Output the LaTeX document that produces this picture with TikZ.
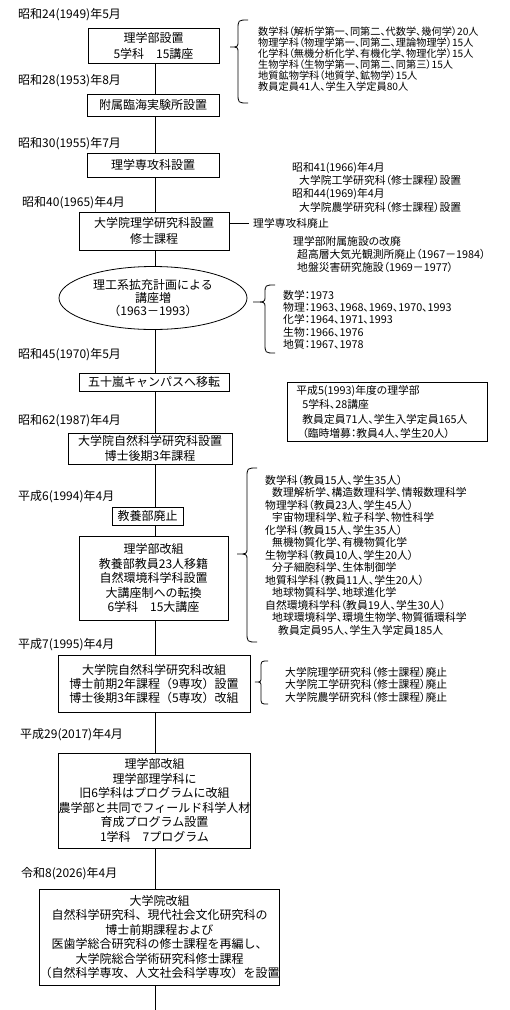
\documentclass[tikz,border=0pt]{standalone}
\usepackage{fontspec}
\setmainfont{Noto Sans CJK JP}
\newfontfamily\sidefam{Noto Sans CJK JP}[RawFeature=+palt]
\usetikzlibrary{shapes.geometric}
\tikzset{
  box/.style={draw, line width=0.8pt, fill=white, align=center, inner sep=0pt},
  mainfont/.style={font=\fontsize{12}{#1}\selectfont},
  datelbl/.style={anchor=west, inner sep=0pt, font=\fontsize{12}{14}\selectfont},
  side/.style={anchor=north west, inner sep=0pt, align=left},
  sidefont/.style={font=\sidefam\fontsize{10.8}{#1}\selectfont},
  smallside/.style={font=\sidefam\fontsize{10.2}{#1}\selectfont},
  link/.style={line width=0.8pt},
  bracepath/.style={line width=0.8pt},
}
\begin{document}
\begin{tikzpicture}[x=1pt, y=-1pt]
\useasboundingbox (0,0) rectangle (510,1010);
\coordinate (sp) at (155,0);
\coordinate (spend) at (155,1010);

% date labels
\node[datelbl] (d1) at (18,15) {昭和24(1949)年5月};
\node[datelbl] (d2) at (18,81) {昭和28(1953)年8月};
\node[datelbl] (d3) at (18,144) {昭和30(1955)年7月};
\node[datelbl] (d4) at (22,203) {昭和40(1965)年4月};
\node[datelbl] (d5) at (18,355) {昭和45(1970)年5月};
\node[datelbl] (d6) at (18,421) {昭和62(1987)年4月};
\node[datelbl] (d7) at (18,497) {平成6(1994)年4月};
\node[datelbl] (d8) at (18,645) {平成7(1995)年4月};
\node[datelbl] (d9) at (20,735) {平成29(2017)年4月};
\node[datelbl] (d10) at (21,874) {令和8(2026)年4月};

% main boxes
\node[box, mainfont=16, minimum width=131, minimum height=35] (b1) at (153.5,45.5) {理学部設置\\5学科　15講座};
\node[box, mainfont=15, minimum width=132, minimum height=22] (b2) at (153,105) {附属臨海実験所設置};
\node[box, mainfont=15, minimum width=132, minimum height=24] (b3) at (153,165) {理学専攻科設置};
\node[box, mainfont=16, minimum width=150, minimum height=38] (b4) at (154,231) {大学院理学研究科設置\\修士課程};
\node[box, ellipse, mainfont=13, minimum width=188, minimum height=63] (el) at (153,298) {理工系拡充計画による\\講座増\\（1963－1993）};
\node[box, mainfont=15, minimum width=150, minimum height=18] (b6) at (154,382) {五十嵐キャンパスへ移転};
\node[box, mainfont=15, minimum width=164, minimum height=31] (b7) at (150,448.5) {大学院自然科学研究科設置\\博士後期3年課程};
\node[box, mainfont=15, minimum width=71, minimum height=18] (b8) at (147.5,516) {教養部廃止};
\node[box, mainfont=14.5, minimum width=149, minimum height=84] (b9) at (153.5,578) {理学部改組\\教養部教員23人移籍\\自然環境科学科設置\\大講座制への転換\\6学科　15大講座};
\node[box, mainfont=14, minimum width=192, minimum height=57] (b10) at (154,683.5) {大学院自然科学研究科改組\\博士前期2年課程（9専攻）設置\\博士後期3年課程（5専攻）改組};
\node[box, mainfont=14.5, minimum width=191, minimum height=95] (b11) at (154.5,800.5) {理学部改組\\理学部理学科に\\旧6学科はプログラムに改組\\農学部と共同でフィールド科学人材\\育成プログラム設置\\1学科　7プログラム};
\node[box, mainfont=14.5, minimum width=233, minimum height=96] (b12) at (159.5,937) {大学院改組\\自然科学研究科、現代社会文化研究科の\\博士前期課程および\\医歯学総合研究科の修士課程を再編し、\\大学院総合学術研究科修士課程\\（自然科学専攻、人文社会科学専攻）を設置};

% spine
\draw[link] (b1.south -| sp) -- (b2.north -| sp);
\draw[link] (b2.south -| sp) -- (b3.north -| sp);
\draw[link] (b3.south -| sp) -- (b4.north -| sp);
\draw[link] (b4.south -| sp) -- (el.north -| sp);
\draw[link] (el.south -| sp) -- (b6.north -| sp);
\draw[link] (b6.south -| sp) -- (b7.north -| sp);
\draw[link] (b7.south -| sp) -- (b8.north -| sp);
\draw[link] (b8.south -| sp) -- (b9.north -| sp);
\draw[link] (b9.south -| sp) -- (b10.north -| sp);
\draw[link] (b10.south -| sp) -- (b11.north -| sp);
\draw[link] (b11.south -| sp) -- (b12.north -| sp);
\draw[link] (b12.south -| sp) -- (spend);

% side texts
\node[side, smallside=11] (g1) at (258,27) {数学科（解析学第一、同第二、代数学、幾何学）20人\\物理学科（物理学第一、同第二、理論物理学）15人\\化学科（無機分析化学、有機化学、物理化学）15人\\生物学科（生物学第一、同第二、同第三）15人\\地質鉱物学科（地質学、鉱物学）15人\\教員定員41人、学生入学定員80人};
\node[side, sidefont=13.3] (g2) at (292,162) {昭和41(1966)年4月\\\hspace{7pt}大学院工学研究科（修士課程）設置\\昭和44(1969)年4月\\\hspace{7pt}大学院農学研究科（修士課程）設置};
\node[anchor=west, inner sep=0pt, sidefont=12] (g3) at (253,223) {理学専攻科廃止};
\draw[link] (b4.east |- g3) -- ([xshift=-4pt]g3.west);
\node[side, sidefont=13] (g4) at (293,236) {理学部附属施設の改廃\\\hspace{4pt}超高層大気光観測所廃止（1967－1984）\\\hspace{4pt}地盤災害研究施設（1969－1977）};
\node[side, sidefont=12.3] (g5) at (283,290) {数学：1973\\物理：1963、1968、1969、1970、1993\\化学：1964、1971、1993\\生物：1966、1976\\地質：1967、1978};
\node[draw, line width=0.8pt, anchor=north west, inner xsep=9pt, inner ysep=0pt, minimum width=200, minimum height=59, text width=182, align=left, sidefont=14.3] (r5) at (287,382) {平成5(1993)年度の理学部\\\hspace{6pt}5学科、28講座\\\hspace{6pt}教員定員71人、学生入学定員165人\\\hspace{6pt}（臨時増募：教員4人、学生20人）};
\node[side, sidefont=12.5] (g6) at (265,475) {数学科（教員15人、学生35人）\\\hspace{7pt}数理解析学、構造数理科学、情報数理科学\\物理学科（教員23人、学生45人）\\\hspace{7pt}宇宙物理科学、粒子科学、物性科学\\化学科（教員15人、学生35人）\\\hspace{7pt}無機物質化学、有機物質化学\\生物学科（教員10人、学生20人）\\\hspace{7pt}分子細胞科学、生体制御学\\地質科学科（教員11人、学生20人）\\\hspace{7pt}地球物質科学、地球進化学\\自然環境科学科（教員19人、学生30人）\\\hspace{7pt}地球環境科学、環境生物学、物質循環科学\\\hspace{13pt}教員定員95人、学生入学定員185人};
\node[side, sidefont=12.5] (g7) at (285,667) {大学院理学研究科（修士課程）廃止\\大学院工学研究科（修士課程）廃止\\大学院農学研究科（修士課程）廃止};

% braces
\draw[bracepath] (248,20) .. controls (238,20) .. (238,30) -- (238,41) .. controls (238,47) .. (230,47) .. controls (238,47) .. (238,53) -- (238,93) .. controls (238,103) .. (248,103);
\draw[bracepath] (275,285) .. controls (265,285) .. (265,294) -- (265,297) .. controls (265,302) .. (253,302) .. controls (265,302) .. (265,307) -- (265,343) .. controls (265,353) .. (275,353);
\draw[bracepath] (257,468) .. controls (247,468) .. (247,478) -- (247,548) .. controls (247,554) .. (237,554) .. controls (247,554) .. (247,560) -- (247,632) .. controls (247,642) .. (257,642);
\draw[bracepath] (268,661) .. controls (261,661) .. (261,668) -- (261,677) .. controls (261,682) .. (255,682) .. controls (261,682) .. (261,687) -- (261,697) .. controls (261,704) .. (268,704);
\end{tikzpicture}
\end{document}
